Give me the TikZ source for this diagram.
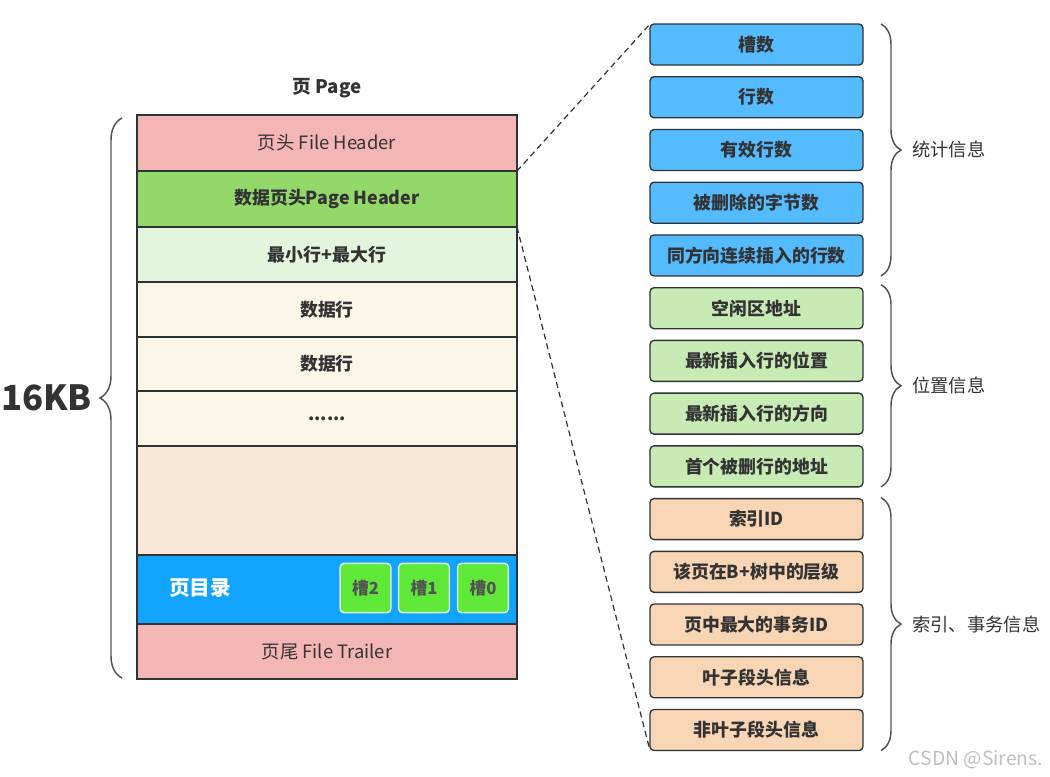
\documentclass[tikz,border=0pt]{standalone}
\usepackage{fontspec}
\setmainfont{Noto Sans CJK SC}
\usepackage{xcolor}
\usepackage{tikz}
\usetikzlibrary{positioning,calc,decorations.pathreplacing}

\definecolor{txtgray}{HTML}{333333}
\definecolor{linegray}{HTML}{2E3338}
\definecolor{headpink}{HTML}{F4B6B5}
\definecolor{pagegreen}{HTML}{95D86A}
\definecolor{mingreen}{HTML}{E4F5DD}
\definecolor{datacream}{HTML}{FAF7E9}
\definecolor{freepeach}{HTML}{FAE8D9}
\definecolor{dirblue}{HTML}{10A4FF}
\definecolor{slotgreen}{HTML}{60E838}
\definecolor{statblue}{HTML}{55BBFF}
\definecolor{posgreen}{HTML}{C8EBB6}
\definecolor{idxorange}{HTML}{F8D5B5}

\begin{document}
\begin{tikzpicture}[x=0.75pt,y=-0.75pt,
  every node/.style={text=txtgray},
  row/.style={draw=linegray,line width=1.1pt,minimum width=285pt,outer sep=0pt,inner sep=0pt},
  bold/.style={font=\bfseries\fontsize{13.4}{16}\selectfont},
  plain/.style={font=\fontsize{13.8}{16}\selectfont},
  infobox/.style={draw=linegray,line width=1pt,rounded corners=3pt,minimum width=159.75pt,minimum height=30.75pt,outer sep=0pt,inner sep=0pt,font=\bfseries\fontsize{13.4}{16}\selectfont},
  slotbox/.style={draw=slotgreen!25!white,line width=1.1pt,fill=slotgreen,rounded corners=3pt,minimum width=38pt,minimum height=37pt,inner sep=0pt,text=txtgray!85!white,font=\bfseries\fontsize{12.5}{14}\selectfont},
  bracegray/.style={draw=txtgray!85!white,line width=1.1pt,decorate},
  side/.style={font=\fontsize{13.7}{16}\selectfont,inner sep=0pt},
  zoomline/.style={linegray,line width=0.9pt,dash pattern=on 4.5pt off 3pt}
]
\useasboundingbox (0,0) rectangle (1050,776);

% the page
\node[font=\bfseries\fontsize{14}{16}\selectfont] (title) at (327,88) {页 Page};
\node[row,plain,fill=headpink,minimum height=42pt] (fh) at (327,143) {页头 File Header};
\node[row,bold,fill=pagegreen,minimum height=42pt,below=0pt of fh] (ph) {数据页头Page Header};
\node[row,bold,fill=mingreen,minimum height=41.25pt,below=0pt of ph] (mm) {最小行+最大行};
\node[row,bold,fill=datacream,minimum height=41.25pt,below=0pt of mm] (d1) {数据行};
\node[row,bold,fill=datacream,minimum height=40.5pt,below=0pt of d1] (d2) {数据行};
\node[row,bold,fill=datacream,minimum height=41.25pt,below=0pt of d2] (dots) {......};
\node[row,fill=freepeach,minimum height=81.75pt,below=0pt of dots] (free) {};
\node[row,fill=dirblue,minimum height=51.75pt,below=0pt of free] (dir) {};
\node[row,plain,fill=headpink,minimum height=41.25pt,below=0pt of dir] (ft) {页尾 File Trailer};

% page directory
\node[text=white,font=\bfseries\fontsize{15.5}{18}\selectfont] (dirlabel) at (200,588) {页目录};
\node[slotbox] (s0) at (483,588) {槽0};
\node[slotbox] (s1) at (424,588) {槽1};
\node[slotbox] (s2) at (365.5,588) {槽2};

% size of the page
\draw[bracegray,decoration={brace,amplitude=16.5pt}] ($(ft.south west)+(-15,-1)$) -- ($(fh.north west)+(-15,3)$)
  node[midway,left=22pt,inner sep=0pt,font=\bfseries\fontsize{26}{30}\selectfont] (size) {16KB};

% page header fields
\node[infobox,fill=statblue] (r0) at (756.5,44.5) {槽数};
\node[infobox,fill=statblue,below=8.8pt of r0] (r1) {行数};
\node[infobox,fill=statblue,below=8.8pt of r1] (r2) {有效行数};
\node[infobox,fill=statblue,below=8.8pt of r2] (r3) {被删除的字节数};
\node[infobox,fill=statblue,below=8.8pt of r3] (r4) {同方向连续插入的行数};
\node[infobox,fill=posgreen,below=8.8pt of r4] (r5) {空闲区地址};
\node[infobox,fill=posgreen,below=8.8pt of r5] (r6) {最新插入行的位置};
\node[infobox,fill=posgreen,below=8.8pt of r6] (r7) {最新插入行的方向};
\node[infobox,fill=posgreen,below=8.8pt of r7] (r8) {首个被删行的地址};
\node[infobox,fill=idxorange,below=8.8pt of r8] (r9) {索引ID};
\node[infobox,fill=idxorange,below=8.8pt of r9] (r10) {该页在B+树中的层级};
\node[infobox,fill=idxorange,below=8.8pt of r10] (r11) {页中最大的事务ID};
\node[infobox,fill=idxorange,below=8.8pt of r11] (r12) {叶子段头信息};
\node[infobox,fill=idxorange,below=8.8pt of r12] (r13) {非叶子段头信息};

% groups
\draw[bracegray,decoration={brace,amplitude=15pt}] ($(r0.north east)+(18,0)$) -- ($(r4.south east)+(18,0)$)
  node[midway,right=23pt,side] (stat) {统计信息};
\draw[bracegray,decoration={brace,amplitude=15pt}] ($(r5.north east)+(18,-3)$) -- ($(r8.south east)+(18,0)$)
  node[midway,right=23pt,side] (pos) {位置信息};
\draw[bracegray,decoration={brace,amplitude=15pt}] ($(r9.north east)+(18,-1)$) -- ($(r13.south east)+(18,0)$)
  node[midway,right=23pt,side] (idx) {索引、事务信息};

% zoom lines
\draw[zoomline] (fh.south east) -- (r0.north west);
\draw[zoomline] (ph.south east) -- (r13.south west);

\node[text=gray!50,font=\fontsize{14.5}{16}\selectfont] (mark) at (976,760) {CSDN @Sirens.};
\end{tikzpicture}
\end{document}
